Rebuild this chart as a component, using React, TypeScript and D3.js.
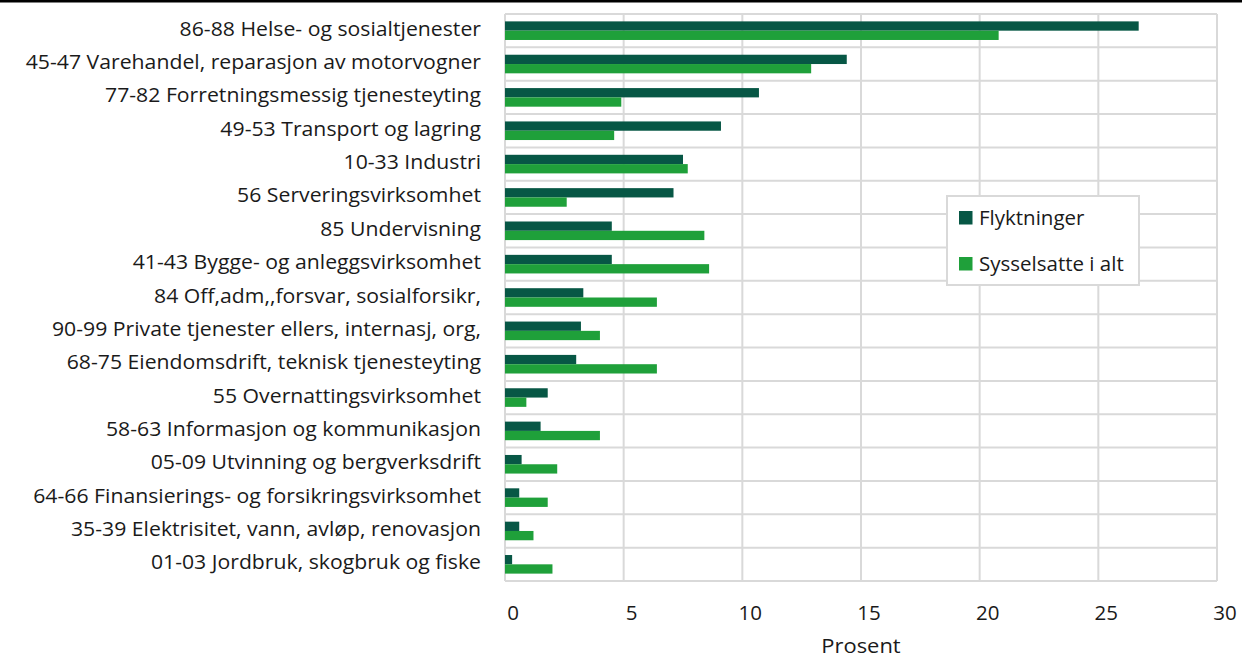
import React from "react";
import * as d3 from "d3";

const categories = [
  "86-88 Helse- og sosialtjenester",
  "45-47 Varehandel, reparasjon av motorvogner",
  "77-82 Forretningsmessig tjenesteyting",
  "49-53 Transport og lagring",
  "10-33 Industri",
  "56 Serveringsvirksomhet",
  "85 Undervisning",
  "41-43 Bygge- og anleggsvirksomhet",
  "84 Off,adm,,forsvar, sosialforsikr,",
  "90-99 Private tjenester ellers, internasj, org,",
  "68-75 Eiendomsdrift, teknisk tjenesteyting",
  "55 Overnattingsvirksomhet",
  "58-63 Informasjon og kommunikasjon",
  "05-09 Utvinning og bergverksdrift",
  "64-66 Finansierings- og forsikringsvirksomhet",
  "35-39 Elektrisitet, vann, avløp, renovasjon",
  "01-03 Jordbruk, skogbruk og fiske",
];
const flyktninger = [26.7, 14.4, 10.7, 9.1, 7.5, 7.1, 4.5, 4.5, 3.3, 3.2, 3.0, 1.8, 1.5, 0.7, 0.6, 0.6, 0.3];
const sysselsatte = [20.8, 12.9, 4.9, 4.6, 7.7, 2.6, 8.4, 8.6, 6.4, 4.0, 6.4, 0.9, 4.0, 2.2, 1.8, 1.2, 2.0];
const xTicks = [0, 5, 10, 15, 20, 25, 30];
const seriesNames = ["Flyktninger", "Sysselsatte i alt"];
const colors = ["#075745", "#1fa03a"];

export default function App() {
  const W = 1242, H = 659;
  const left = 505, right = 1217, top = 14, bottom = 581;
  const x = d3.scaleLinear().domain([0, 30]).range([left, right]);
  const y = d3.scaleBand<string>().domain(categories).range([top, bottom]);
  const barH = 9.3;
  const font = "'Open Sans', sans-serif";
  const grid = "#d9d9d9";
  const txt = "#1a1a1a";
  return (
    <svg width={W} height={H} style={{ position: "absolute", left: 0, top: 0, background: "#fff" }} fontFamily={font}>
      <rect x={0} y={0} width={W} height={2.5} fill="#000" />
      {xTicks.map((t) => (
        <line key={"v" + t} x1={x(t)} x2={x(t)} y1={top} y2={bottom} stroke={grid} strokeWidth={2} />
      ))}
      {categories.map((c, i) => (
        <line key={"h" + i} x1={left} x2={right} y1={y(c)!} y2={y(c)!} stroke={grid} strokeWidth={2} />
      ))}
      <line x1={left} x2={right} y1={bottom} y2={bottom} stroke={grid} strokeWidth={2} />
      {categories.map((c, i) => {
        const cy = y(c)! + y.bandwidth() / 2;
        return (
          <g key={"b" + i}>
            <rect x={x(0)} y={cy - barH} width={x(flyktninger[i]) - x(0)} height={barH} fill={colors[0]} />
            <rect x={x(0)} y={cy} width={x(sysselsatte[i]) - x(0)} height={barH} fill={colors[1]} />
            <text transform={`translate(481,${cy + 5}) scale(1.035,1)`} textAnchor="end" fontSize={20.5} fill={txt}>{c}</text>
          </g>
        );
      })}
      {xTicks.map((t) => (
        <text key={"t" + t} x={x(t) + 8} y={620} textAnchor="middle" fontSize={20.5} fill={txt}>{t}</text>
      ))}
      <text transform="translate(861,653) scale(1.07,1)" textAnchor="middle" fontSize={20.5} fill={txt}>Prosent</text>
      <g>
        <rect x={947} y={196} width={192} height={89} fill="#fff" stroke={grid} strokeWidth={2} />
        {seriesNames.map((s, i) => (
          <g key={s}>
            <rect x={959} y={211 + i * 46} width={13.5} height={13.5} fill={colors[i]} />
            <text x={979} y={225 + i * 46} fontSize={20.5} fill={txt}>{s}</text>
          </g>
        ))}
      </g>
    </svg>
  );
}
